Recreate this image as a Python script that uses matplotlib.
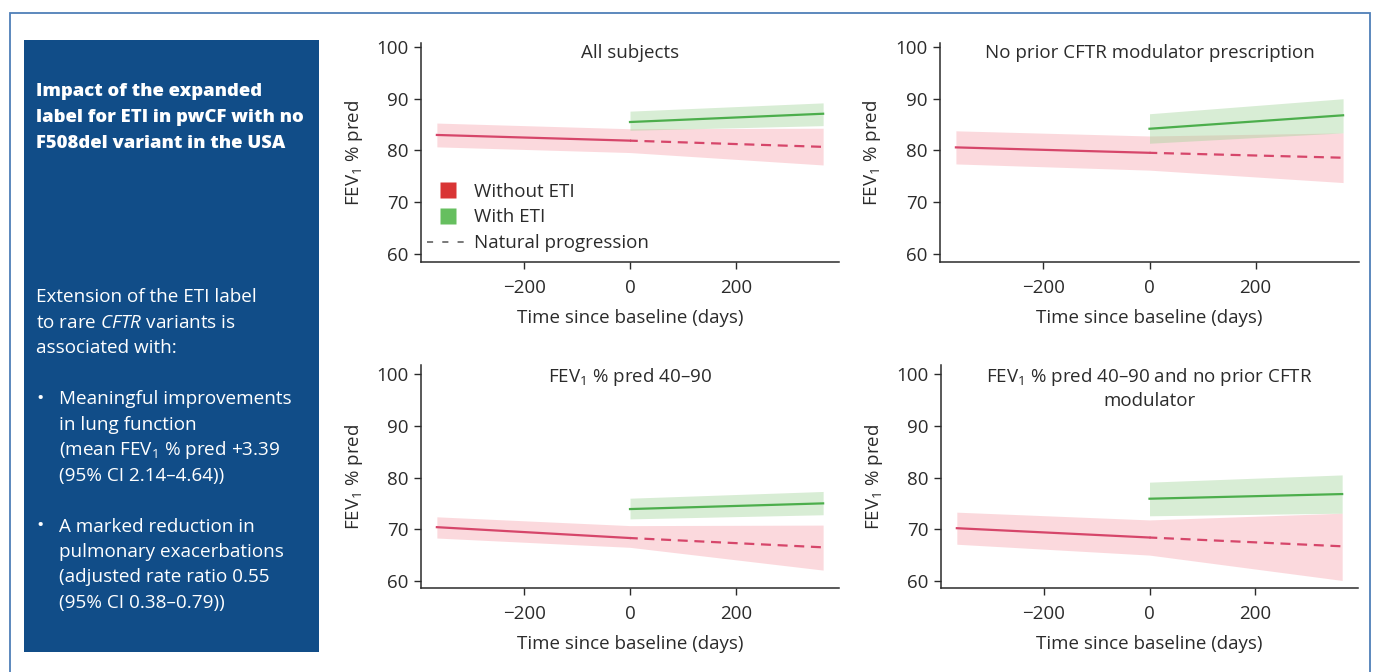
import matplotlib
matplotlib.use("Agg")
import matplotlib.pyplot as plt
from matplotlib.patches import Rectangle
from matplotlib.lines import Line2D

plt.rcParams['font.family'] = ['Open Sans', 'DejaVu Sans']
plt.rcParams['mathtext.fontset'] = 'custom'
plt.rcParams['mathtext.rm'] = 'Open Sans'
plt.rcParams['mathtext.it'] = 'Open Sans:italic'
plt.rcParams['mathtext.bf'] = 'Open Sans:bold'

# ---- data ----
titles = ["All subjects",
          "No prior CFTR modulator prescription",
          "FEV$_1$ % pred 40\u201390",
          "FEV$_1$ % pred 40\u201390 and no prior CFTR\nmodulator"]

days_red = [-365, 0, 365]     # pre-period (solid) then natural progression (dashed)
days_green = [0, 365]

red_mean = [[83.0, 81.9, 80.7],
            [80.6, 79.55, 78.6],
            [70.4, 68.3, 66.5],
            [70.2, 68.4, 66.7]]
red_lo = [[80.7, 79.6, 77.2],
          [77.4, 76.2, 73.8],
          [68.3, 66.5, 62.1],
          [67.1, 65.0, 60.1]]
red_hi = [[85.3, 84.2, 84.3],
          [83.8, 82.8, 83.4],
          [72.4, 70.7, 70.8],
          [73.3, 71.8, 73.1]]

green_mean = [[85.5, 87.1],
              [84.2, 86.8],
              [73.9, 75.0],
              [75.9, 76.8]]
green_lo = [[83.9, 84.8],
            [81.4, 83.4],
            [72.0, 72.8],
            [72.6, 73.1]]
green_hi = [[87.6, 89.2],
            [87.1, 90.0],
            [76.0, 77.3],
            [79.1, 80.5]]

yticks = [60, 70, 80, 90, 100]
xticks = [-200, 0, 200]
legend_labels = ["Without ETI", "With ETI", "Natural progression"]

heading = ["Impact of the expanded",
           "label for ETI in pwCF with no",
           "F508del variant in the USA"]
intro = ["Extension of the ETI label",
         "to rare $\\mathit{CFTR}$ variants is",
         "associated with:"]
bullet1 = ["Meaningful improvements",
           "in lung function",
           "(mean FEV$_1$ % pred +3.39",
           "(95% CI 2.14\u20134.64))"]
bullet2 = ["A marked reduction in",
           "pulmonary exacerbations",
           "(adjusted rate ratio 0.55",
           "(95% CI 0.38\u20130.79))"]

# ---- styling ----
W, H = 1376, 672
RED_LINE = '#d6466a'
GREEN_LINE = '#4cae4c'
RED_BAND = '#f7a1aa'
GREEN_BAND = '#9fd296'
PANEL = '#114d88'
TXT = '#2b2b2b'
FS = 13.5
PFS = 13.6

fig = plt.figure(figsize=(W / 100, H / 100), dpi=100)

def px_box(x0, y0, x1, y1):
    return [x0 / W, 1 - y1 / H, (x1 - x0) / W, (y1 - y0) / H]

# outer frame + blue side panel
fig.patches.append(Rectangle((10 / W, -0.05), 1360 / W, 1.05 - 13 / H,
                             transform=fig.transFigure, fill=False,
                             edgecolor='#4f7fb8', lw=1.3))
fig.patches.append(Rectangle((24 / W, 1 - 652 / H), 295 / W, 612 / H,
                             transform=fig.transFigure, facecolor=PANEL,
                             edgecolor='none'))

lh = 25.5
for i, s in enumerate(heading):
    fig.text(36 / W, 1 - (92 + i * lh) / H, s, color='white', fontsize=13.3,
             fontweight='heavy', va='center', ha='left')
for i, s in enumerate(intro):
    fig.text(36 / W, 1 - (297 + i * lh) / H, s, color='white', fontsize=PFS,
             va='center', ha='left')
for y0, lines in [(399, bullet1), (526.5, bullet2)]:
    fig.text(40 / W, 1 - y0 / H, "\u2022", color='white', fontsize=14,
             va='center', ha='center')
    for i, s in enumerate(lines):
        fig.text(59 / W, 1 - (y0 + i * lh) / H, s, color='white',
                 fontsize=PFS, va='center', ha='left')

boxes = [px_box(421, 43, 839, 262), px_box(940, 43, 1359, 262),
         px_box(421, 365, 839, 588), px_box(941, 365, 1358, 588)]
ylims = [(58.45, 100.77), (58.45, 100.77), (58.64, 101.75), (58.64, 101.75)]

for k in range(4):
    ax = fig.add_axes(boxes[k])
    ax.fill_between(days_red, red_lo[k], red_hi[k], color=RED_BAND,
                    alpha=0.4, lw=0)
    ax.fill_between(days_green, green_lo[k], green_hi[k], color=GREEN_BAND,
                    alpha=0.4, lw=0)
    ax.plot(days_red[:2], red_mean[k][:2], color=RED_LINE, lw=1.6)
    ax.plot(days_red[1:], red_mean[k][1:], color=RED_LINE, lw=1.6,
            linestyle=(1, (4.5, 3)))
    ax.plot(days_green, green_mean[k], color=GREEN_LINE, lw=1.6)

    ax.set_xlim(-395, 395)
    ax.set_ylim(*ylims[k])
    ax.set_xticks(xticks)
    ax.set_xticklabels(['\u2212200', '0', '200'])
    ax.set_yticks(yticks)
    for sp in ['top', 'right']:
        ax.spines[sp].set_visible(False)
    for sp in ['left', 'bottom']:
        ax.spines[sp].set_color(TXT)
        ax.spines[sp].set_linewidth(1.1)
    ax.tick_params(direction='out', length=5, width=1, color=TXT,
                   labelcolor=TXT, labelsize=FS, pad=4)
    ax.tick_params(axis='x', pad=7)
    ax.set_xlabel("Time since baseline (days)", fontsize=FS, color=TXT,
                  labelpad=9)
    ax.set_ylabel("FEV$_1$ % pred", fontsize=FS, color=TXT)
    ax.yaxis.set_label_coords(-0.135, 0.5)
    ax.text(0.5, 0.995, titles[k], transform=ax.transAxes, ha='center',
            va='top', fontsize=FS, color=TXT, linespacing=1.3)

    if k == 0:
        handles = [Line2D([], [], marker='s', linestyle='none', markersize=12,
                          markerfacecolor='#d93535', markeredgecolor='none'),
                   Line2D([], [], marker='s', linestyle='none', markersize=12,
                          markerfacecolor='#66bf5f', markeredgecolor='none'),
                   Line2D([], [], color='#555555', lw=1.1,
                          linestyle=(0, (4, 6)))]
        ax.legend(handles, legend_labels, loc='lower left',
                  bbox_to_anchor=(0.015, 0.045), frameon=False, fontsize=FS,
                  handlelength=2.2, handletextpad=0.3, labelspacing=0.41,
                  borderpad=0, borderaxespad=0, labelcolor=TXT)

fig.savefig("out.png", dpi=100)
